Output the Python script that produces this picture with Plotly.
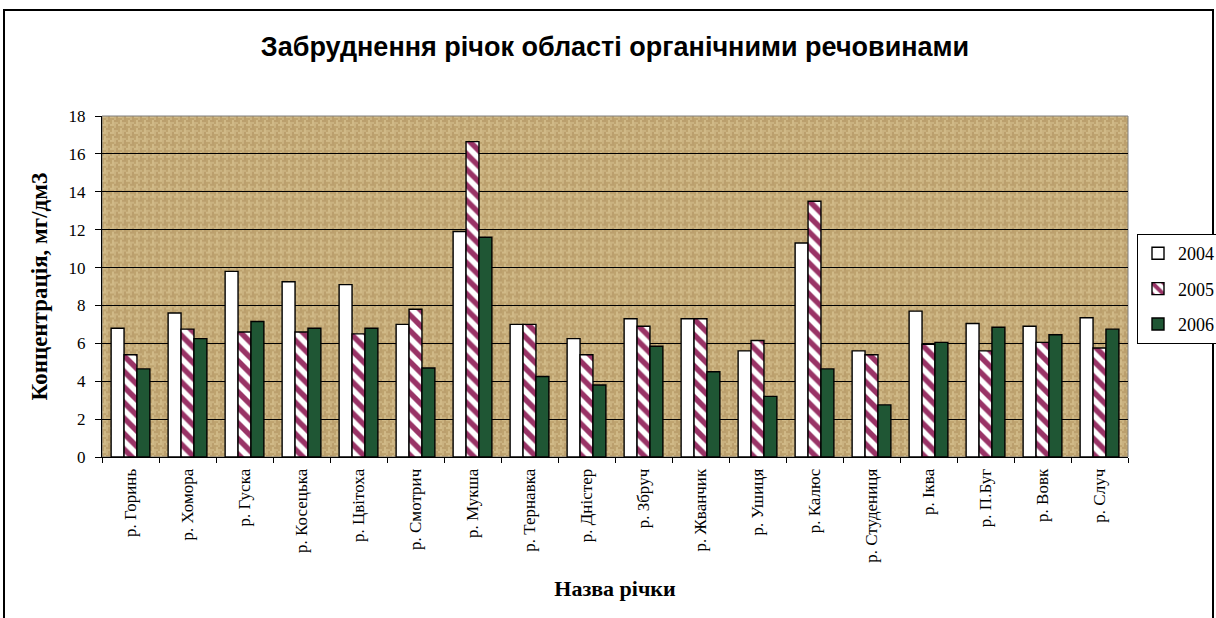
import base64
import plotly.graph_objects as go

rivers = ["р. Горинь", "р. Хомора", "р. Гуска", "р. Косецька", "р. Цвітоха", "р. Смотрич",
          "р. Мукша", "р. Тернавка", "р. Дністер", "р. Збруч", "р. Жванчик", "р. Ушиця",
          "р. Калюс", "р. Студениця", "р. Іква", "р. П.Буг", "р. Вовк", "р. Случ"]
v2004 = [6.8, 7.6, 9.8, 9.25, 9.1, 7.0, 11.9, 7.0, 6.25, 7.3, 7.3, 5.6, 11.3, 5.6, 7.7, 7.05, 6.9, 7.35]
v2005 = [5.4, 6.75, 6.6, 6.6, 6.5, 7.8, 16.65, 7.0, 5.4, 6.9, 7.3, 6.15, 13.5, 5.4, 5.95, 5.6, 6.05, 5.75]
v2006 = [4.65, 6.25, 7.15, 6.8, 6.8, 4.7, 11.6, 4.25, 3.8, 5.85, 4.5, 3.2, 4.65, 2.75, 6.05, 6.85, 6.45, 6.75]
years = ["2004", "2005", "2006"]
y_ticks = [0, 2, 4, 6, 8, 10, 12, 14, 16, 18]

# burlap-like weave texture for plot background
tile = (
    '<pattern id="w" width="8" height="8" patternUnits="userSpaceOnUse">'
    '<rect width="8" height="8" fill="#86663a"/>'
    '<rect x="0" y="0.3" width="4" height="1.4" fill="#f0dca8"/>'
    '<rect x="0" y="2.3" width="4" height="1.4" fill="#d6bd86"/>'
    '<rect x="4.3" y="0" width="1.4" height="4" fill="#e8d29e"/>'
    '<rect x="6.3" y="0" width="1.4" height="4" fill="#d2b882"/>'
    '<rect x="0.3" y="4" width="1.4" height="4" fill="#d6bd86"/>'
    '<rect x="2.3" y="4" width="1.4" height="4" fill="#f0dca8"/>'
    '<rect x="4" y="4.3" width="4" height="1.4" fill="#d2b882"/>'
    '<rect x="4" y="6.3" width="4" height="1.4" fill="#e8d29e"/>'
    '</pattern>'
)
svg = ('<svg xmlns="http://www.w3.org/2000/svg" width="1026" height="342">'
       '<defs>' + tile + '</defs><rect width="1026" height="342" fill="url(#w)"/></svg>')
svg_uri = "data:image/svg+xml;base64," + base64.b64encode(svg.encode()).decode()

SERIF = "Liberation Serif, Times New Roman"

fig = go.Figure()
fig.add_trace(go.Bar(x=rivers, y=v2004, name=years[0], legendgroup="a",
                     marker=dict(color="white", line=dict(color="black", width=1.4))))
fig.add_trace(go.Bar(x=rivers, y=v2005, name=years[1], legendgroup="b",
                     marker=dict(color="white", line=dict(color="black", width=1.4),
                                 pattern=dict(shape="\\", fgcolor="#993366", bgcolor="white",
                                              fgopacity=1, size=11, solidity=0.5))))
fig.add_trace(go.Bar(x=rivers, y=v2006, name=years[2], legendgroup="c",
                     marker=dict(color="#1f5634", line=dict(color="black", width=1.4))))

L, R, T, B = 102, 88, 116, 161
pw, ph = 1216 - L - R, 618 - T - B

def px(x):
    return (x - L) / pw

def py(y):
    return (618 - B - y) / ph

fig.update_layout(
    width=1216, height=618,
    margin=dict(l=L, r=R, t=T, b=B, autoexpand=False),
    paper_bgcolor="white",
    plot_bgcolor="rgba(0,0,0,0)",
    barmode="group", bargap=0.32, bargroupgap=0,
    title=dict(text="<b>Забруднення річок області органічними речовинами</b>",
               x=0.5, xref="paper", y=1 - 47 / 618, yref="container", yanchor="middle",
               font=dict(family="Liberation Sans, Arial", size=27, color="black")),
    font=dict(family=SERIF, color="black"),
    legend=dict(x=px(1137), y=py(234), xanchor="left", yanchor="top",
                bgcolor="white", bordercolor="black", borderwidth=1, itemwidth=30,
                font=dict(family=SERIF, size=18, color="black"),
                tracegroupgap=9, traceorder="grouped"),
    images=[dict(source=svg_uri, xref="paper", yref="paper", x=0, y=1, sizex=1, sizey=1,
                 sizing="stretch", layer="below", xanchor="left", yanchor="top")],
    shapes=[
        dict(type="rect", xref="paper", yref="paper", x0=0, x1=1, y0=0, y1=1,
             line=dict(color="#808080", width=1), layer="below"),
        dict(type="rect", xref="paper", yref="paper", x0=px(4), x1=px(1213), y0=py(10), y1=py(640),
             line=dict(color="black", width=2), layer="below"),
    ],
)
fig.update_xaxes(showline=True, linecolor="black", linewidth=1, mirror=False,
                 ticks="outside", tickson="boundaries", ticklen=5, tickcolor="black",
                 tickangle=-90, tickfont=dict(size=17, family=SERIF), ticklabelstandoff=4,
                 title=dict(text="<b>Назва річки</b>", standoff=18,
                            font=dict(size=22, family=SERIF)),
                 showgrid=False)
fig.update_yaxes(range=[0, 18], tickvals=y_ticks, showline=True, linecolor="black", linewidth=1,
                 ticks="outside", ticklen=6, tickcolor="black", ticklabelstandoff=6,
                 tickfont=dict(size=17, family=SERIF),
                 showgrid=True, gridcolor="black", gridwidth=1.2, zeroline=False,
                 title=dict(text="<b>Концентрація, мг/дм3</b>", standoff=14,
                            font=dict(size=23, family=SERIF)))

fig.write_html("out.html")
